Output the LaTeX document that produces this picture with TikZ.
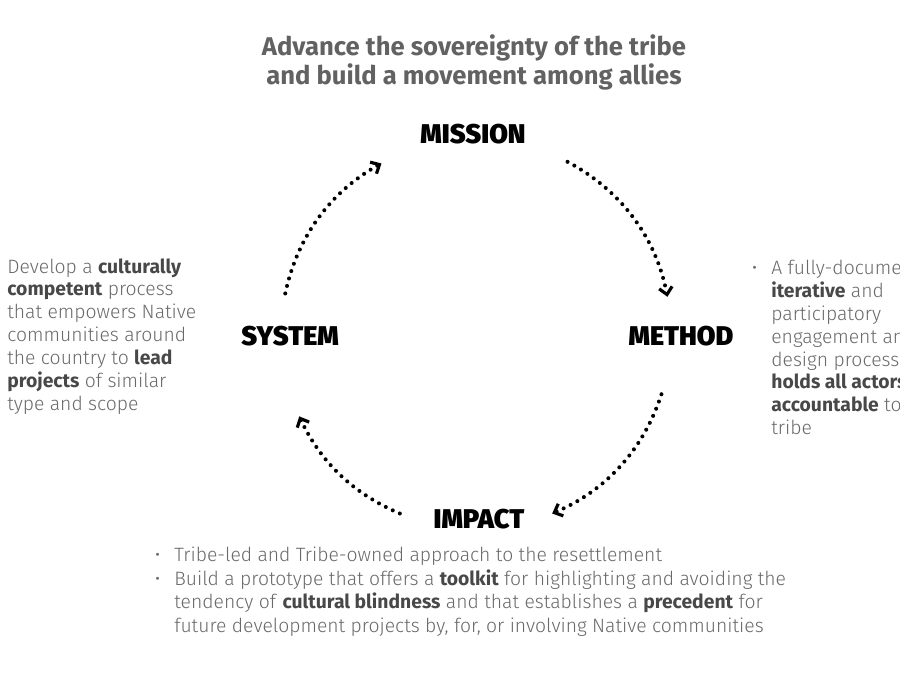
\documentclass[tikz,border=0pt]{standalone}
\usepackage{fontspec}
\IfFontExistsTF{Fira Sans Light}
  {\setmainfont{Fira Sans Light}[BoldFont=Fira Sans Bold]}
  {\setmainfont{Fira Sans}}
\IfFontExistsTF{Fira Sans Black}
  {\newfontfamily\heavyfont{Fira Sans Black}}
  {\newfontfamily\heavyfont{Fira Sans}[UprightFont=* Bold]}
\usetikzlibrary{arrows.meta, positioning}
\definecolor{txGrey}{RGB}{105,105,105}
\definecolor{txDark}{RGB}{72,72,72}
\definecolor{hdGrey}{RGB}{98,98,98}
\newcommand{\hl}[1]{\textbf{\textcolor{txDark}{#1}}}
\newcommand{\bul}{\llap{\textbullet\hspace{8pt}}}

\begin{document}
\begin{tikzpicture}[x=0.02cm, y=0.02cm,
    stage/.style={font=\heavyfont\fontsize{15.4}{18}\selectfont, inner sep=3pt},
    note/.style={align=left, inner sep=0pt, text=txGrey,
                 font=\fontsize{11}{13}\selectfont},
    cyc/.style={line width=2.3pt, dash pattern=on 0pt off 4.4pt, line cap=round,
                -{Straight Barb[length=4pt, width=7.5pt, line width=1.8pt]}}]
  \useasboundingbox (0,0) rectangle (900,675);
  % goal
  \node[align=center, text=hdGrey, font=\bfseries\fontsize{14.6}{16.5}\selectfont]
    (goal) at (474,613)
    {Advance the sovereignty of the tribe\\ and build a movement among allies};
  % cycle
  \node[stage] (mis) at (473,541) {MISSION};
  \node[stage] (met) at (681,339) {METHOD};
  \node[stage] (imp) at (479,156) {IMPACT};
  \node[stage] (sys) at (290,339) {SYSTEM};
  \coordinate (hub) at (476,341);
  \foreach \pt/\ang in {s1/168, m1/119, m2/62, t1/11, t2/-18, i1/-67, i2/-113, s2/-155}
    \coordinate (\pt) at ([shift={(\ang:195)}]hub);
  \draw[cyc] (s1) to[bend left=24.5, looseness=0.92] (m1);
  \draw[cyc] (m2) to[bend left=25.5, looseness=0.92] (t1);
  \draw[cyc] (t2) to[bend left=24.5, looseness=0.92] (i1);
  \draw[cyc] (i2) to[bend left=21, looseness=0.92] (s2);
  % notes
  \node[note, anchor=north west] (sysnote) at (7,417)
    {Develop a \hl{culturally}\\ \hl{competent} process\\ that empowers Native\\
     communities around\\ the country to \hl{lead}\\ \hl{projects} of similar\\
     type and scope};
  \node[note, anchor=north west] (metnote) at (771,415)
    {\bul A fully-documented,\\ \hl{iterative} and\\ participatory\\
     engagement and\\ design process that\\ \hl{holds all actors}\\
     \hl{accountable} to the\\ tribe};
  \node[note, anchor=north west, font=\fontsize{11}{13.4}\selectfont] (impnote) at (174,128)
    {\bul Tribe-led and Tribe-owned approach to the resettlement\\
     \bul Build a prototype that offers a \hl{toolkit} for highlighting and avoiding the\\
     tendency of \hl{cultural blindness} and that establishes a \hl{precedent} for\\
     future development projects by, for, or involving Native communities};
\end{tikzpicture}
\end{document}
